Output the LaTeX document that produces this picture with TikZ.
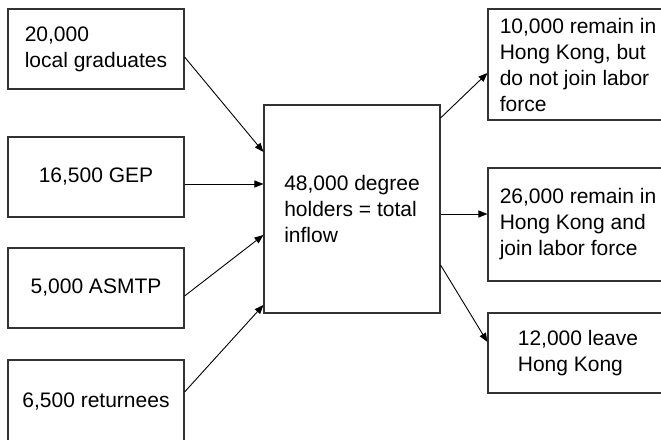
\documentclass[tikz,border=0pt]{standalone}
\usepackage{fontspec}
\setmainfont{Liberation Sans}
\usetikzlibrary{arrows.meta}

\begin{document}
\begin{tikzpicture}[x=1pt, y=-1pt,
    every node/.style={rectangle, draw=black!80, line width=1.1pt, align=left, inner sep=0pt, font=\fontsize{21}{26}\selectfont},
    flow/.style={-{Triangle[length=9pt, width=7pt]}, line width=0.9pt}]

    \useasboundingbox (0,0) rectangle (661,439);

    % Left column
    \node[minimum width=176pt, minimum height=80pt] (grad) at (96,49) {20,000\\local graduates};
    \node[minimum width=176pt, minimum height=80pt] (gep) at (96,177) {16,500 GEP};
    \node[minimum width=176pt, minimum height=80pt] (asmtp) at (96,288) {5,000 ASMTP};
    \node[minimum width=176pt, minimum height=84pt] (ret) at (96,402) {6,500 returnees}; % runs off the bottom

    % Middle
    \node[minimum width=176pt, minimum height=208pt] (inflow) at (352,209) {48,000 degree\\holders = total\\inflow};

    % Right column
    \node[minimum width=180pt, minimum height=111pt] (stay) at (578,64.5) {10,000 remain in\\Hong Kong, but\\do not join labor\\force};
    \node[minimum width=180pt, minimum height=113pt] (work) at (578,224.5) {26,000 remain in\\Hong Kong and\\join labor force};
    \node[minimum width=180pt, minimum height=80pt] (leave) at (578,353) {12,000 leave\\Hong Kong};

    % Edges in
    \draw[flow] ([yshift=-8pt]grad.east) -- ([yshift=57pt]inflow.west);
    \draw[flow] ([yshift=-7pt]gep.east) -- ([yshift=25pt]inflow.west);
    \draw[flow] ([yshift=-8pt]asmtp.east) -- ([yshift=-26pt]inflow.west);
    \draw[flow] ([yshift=10pt]ret.east) -- ([yshift=-96pt]inflow.west);

    % Edges out
    \draw[flow] ([yshift=91pt]inflow.east) -- ([yshift=-8.5pt]stay.west);
    \draw[flow] ([yshift=-5pt]inflow.east) -- ([yshift=10.5pt]work.west);
    \draw[flow] ([yshift=-56pt]inflow.east) -- ([yshift=11pt]leave.west);

\end{tikzpicture}
\end{document}
